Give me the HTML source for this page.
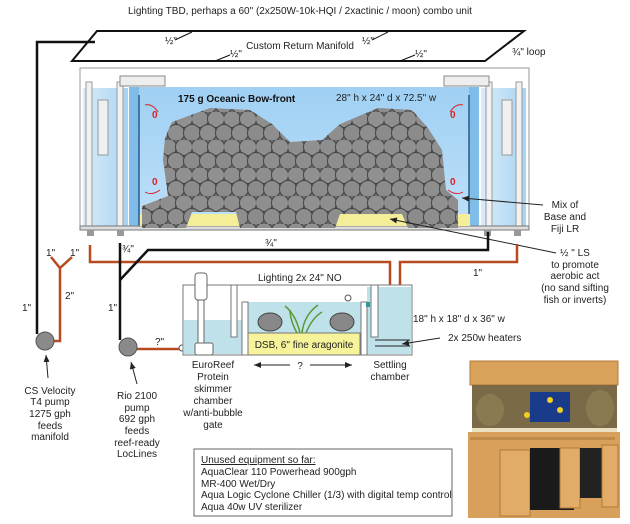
<!DOCTYPE html>
<html><head><meta charset="utf-8"><style>
html,body{margin:0;padding:0;background:#fff;}
svg{display:block;}
text{font-family:"Liberation Sans",Arial,sans-serif;font-size:10px;fill:#222;}
</style></head><body>
<svg width="630" height="524" viewBox="0 0 630 524" xmlns="http://www.w3.org/2000/svg">
<defs>
<linearGradient id="wat" x1="0" y1="0" x2="0" y2="1">
<stop offset="0" stop-color="#9fd0f4"/><stop offset="1" stop-color="#bfe0f8"/></linearGradient>
<linearGradient id="side" x1="0" y1="0" x2="1" y2="0">
<stop offset="0" stop-color="#d8ecfa"/><stop offset="1" stop-color="#a8d4f2"/></linearGradient>
<pattern id="rock" width="32" height="28" patternUnits="userSpaceOnUse">
<rect width="32" height="28" fill="#6e6e6e"/>
<circle cx="8" cy="7" r="8.5" fill="#8e8e8e" stroke="#444" stroke-width="1"/>
<circle cx="24" cy="7" r="8.5" fill="#909090" stroke="#444" stroke-width="1"/>
<circle cx="0" cy="21" r="8.5" fill="#8b8b8b" stroke="#444" stroke-width="1"/>
<circle cx="16" cy="21" r="8.5" fill="#8e8e8e" stroke="#444" stroke-width="1"/>
<circle cx="32" cy="21" r="8.5" fill="#8b8b8b" stroke="#444" stroke-width="1"/>
</pattern>
<marker id="ah" markerWidth="8" markerHeight="8" refX="7" refY="4" orient="auto"><path d="M0,1 L7,4 L0,7 z" fill="#222"/></marker>
</defs>

<text x="300" y="14" text-anchor="middle" font-size="9.5">Lighting TBD, perhaps a 60" (2x250W-10k-HQI / 2xactinic / moon) combo unit</text>

<polygon points="97,31 524,31 485,61 72,61" fill="#fff" stroke="#111" stroke-width="2"/>
<text x="300" y="49" text-anchor="middle">Custom Return Manifold</text>
<text x="165" y="44" font-size="9">½"</text><line x1="175" y1="40" x2="192" y2="32" stroke="#111"/>
<text x="362" y="44" font-size="9">½"</text><line x1="372" y1="40" x2="388" y2="32" stroke="#111"/>
<text x="230" y="57" font-size="9">½"</text><line x1="215" y1="61" x2="230" y2="55" stroke="#111"/>
<text x="415" y="57" font-size="9">½"</text><line x1="400" y1="61" x2="415" y2="55" stroke="#111"/>
<text x="512" y="55" font-size="9">¾" loop</text>

<polyline points="95,42 37,42 37,334" fill="none" stroke="#111" stroke-width="2.5"/>

<rect x="80" y="68" width="449" height="161" fill="#fff" stroke="#999" stroke-width="1"/>
<rect x="83" y="88" width="45" height="138" fill="url(#side)"/>
<rect x="481" y="88" width="45" height="138" fill="url(#side)"/>
<rect x="129" y="87" width="350" height="140" fill="url(#wat)"/>
<rect x="129" y="87" width="10" height="140" fill="#7fbde8"/>
<rect x="469" y="87" width="10" height="140" fill="#7fbde8"/>
<line x1="139" y1="95" x2="139" y2="226" stroke="#2a5a8a" stroke-width="1.5"/>
<line x1="469" y1="95" x2="469" y2="226" stroke="#2a5a8a" stroke-width="1.5"/>
<rect x="86" y="82" width="6" height="144" fill="#f2f2f2" stroke="#999"/>
<rect x="117" y="82" width="6" height="144" fill="#f2f2f2" stroke="#999"/>
<rect x="120" y="76" width="45" height="10" fill="#eee" stroke="#888"/>
<rect x="98" y="100" width="10" height="55" fill="#f0f0f0" stroke="#999"/>
<rect x="516" y="82" width="6" height="144" fill="#f2f2f2" stroke="#999"/>
<rect x="486" y="82" width="6" height="144" fill="#f2f2f2" stroke="#999"/>
<rect x="444" y="76" width="45" height="10" fill="#eee" stroke="#888"/>
<rect x="502" y="100" width="10" height="55" fill="#f0f0f0" stroke="#999"/>
<rect x="80" y="226" width="449" height="4" fill="#ddd" stroke="#777"/>
<rect x="87" y="230" width="7" height="6" fill="#999"/><rect x="117" y="230" width="7" height="6" fill="#999"/>
<rect x="484" y="230" width="7" height="6" fill="#999"/><rect x="514" y="230" width="7" height="6" fill="#999"/>
<rect x="140" y="214" width="330" height="12" fill="#f4ee98"/>
<polygon points="165,138 172,122 210,108 250,110 272,124 290,142 322,140 340,124 378,108 412,110 428,128 442,150 446,190 458,200 458,228 408,228 402,214 340,214 335,228 240,228 236,212 192,212 186,228 142,228 142,206 168,196 163,160" fill="url(#rock)"/>
<text x="152" y="118" font-size="10" style="fill:#d22" font-weight="bold">0</text>
<text x="152" y="185" font-size="10" style="fill:#d22" font-weight="bold">0</text>
<text x="450" y="118" font-size="10" style="fill:#d22" font-weight="bold">0</text>
<text x="450" y="185" font-size="10" style="fill:#d22" font-weight="bold">0</text>
<g stroke="#d22" fill="none" stroke-width="1"><path d="M145,105 Q152,103 158,112"/><path d="M145,192 Q152,196 160,190"/><path d="M463,105 Q456,103 450,112"/><path d="M463,192 Q456,196 448,190"/></g>

<text x="178" y="102" font-weight="bold" font-size="10.5" style="fill:#111">175 g Oceanic Bow-front</text>
<text x="336" y="101" font-size="10">28" h x 24" d x 72.5" w</text>

<line x1="543" y1="205" x2="462" y2="198" stroke="#222" marker-end="url(#ah)"/>
<text x="565" y="208" text-anchor="middle">Mix of</text>
<text x="565" y="220" text-anchor="middle">Base and</text>
<text x="565" y="232" text-anchor="middle">Fiji LR</text>
<line x1="556" y1="253" x2="390" y2="219" stroke="#222" marker-end="url(#ah)"/>
<text x="575" y="256" text-anchor="middle">½ " LS</text>
<text x="575" y="268" text-anchor="middle">to promote</text>
<text x="575" y="279" text-anchor="middle">aerobic act</text>
<text x="575" y="291" text-anchor="middle">(no sand sifting</text>
<text x="575" y="303" text-anchor="middle">fish or inverts)</text>

<g fill="none" stroke="#b84a20" stroke-width="2.5">
<polyline points="90,245 90,262 390,262 390,331"/>
<polyline points="517,244 517,262 400,262 400,331"/>
<polyline points="51,257 60,268 72,257"/>
<polyline points="60,268 60,341 48,341"/>
<polyline points="137,349 180,349"/>
</g>
<g stroke="#fff" stroke-width="1.5" stroke-dasharray="3,4">
<line x1="390" y1="300" x2="390" y2="331"/><line x1="400" y1="300" x2="400" y2="331"/>
</g>
<polyline points="488,232 488,250 148,250 120,280" fill="none" stroke="#111" stroke-width="2.5"/>
<line x1="120" y1="243" x2="120" y2="340" stroke="#111" stroke-width="2.5"/>

<text x="265" y="246" font-size="9">¾"</text>
<text x="122" y="252" font-size="9">¾"</text>
<text x="473" y="276" font-size="9">1"</text>
<text x="46" y="256" font-size="9">1"</text>
<text x="70" y="256" font-size="9">1"</text>
<text x="65" y="299" font-size="9">2"</text>
<text x="22" y="311" font-size="9">1"</text>
<text x="108" y="311" font-size="9">1"</text>
<text x="155" y="345" font-size="9">?"</text>

<circle cx="45" cy="341" r="9" fill="#8a8a8a" stroke="#555"/>
<circle cx="128" cy="347" r="9" fill="#8a8a8a" stroke="#555"/>
<circle cx="182" cy="348" r="3" fill="#fff" stroke="#555"/>
<line x1="48" y1="378" x2="46" y2="355" stroke="#222" marker-end="url(#ah)"/>
<line x1="137" y1="384" x2="131" y2="362" stroke="#222" marker-end="url(#ah)"/>

<text x="258" y="281">Lighting 2x 24" NO</text>
<rect x="183" y="285" width="229" height="70" fill="#fff" stroke="#777"/>
<rect x="184" y="320" width="58" height="34" fill="#bfe2ea"/>
<rect x="248" y="302" width="113" height="52" fill="#bfe2ea"/>
<rect x="367" y="287" width="44" height="67" fill="#bfe2ea"/>
<rect x="248" y="333" width="112" height="22" fill="#f7f39a" stroke="#777"/>
<text x="304" y="348" text-anchor="middle" font-size="9">DSB, 6" fine aragonite</text>
<rect x="231" y="285" width="6" height="52" fill="#fff" stroke="#777"/>
<rect x="242" y="302" width="6" height="53" fill="#fff" stroke="#777"/>
<rect x="361" y="302" width="6" height="53" fill="#fff" stroke="#777"/>
<rect x="371" y="285" width="7" height="52" fill="#fff" stroke="#777"/>
<ellipse cx="270" cy="322" rx="12" ry="9" fill="#888" stroke="#444"/>
<ellipse cx="342" cy="322" rx="12" ry="9" fill="#888" stroke="#444"/>
<g stroke="#5a9a3a" stroke-width="1.5" fill="none"><path d="M300,333 Q296,315 285,306"/><path d="M302,333 Q304,315 318,305"/><path d="M306,333 Q312,318 322,312"/><path d="M297,333 Q290,320 290,310"/></g>
<circle cx="348" cy="298" r="3" fill="#fff" stroke="#555"/>
<rect x="366" y="302" width="4" height="5" fill="#2a9a9a"/>
<g stroke="#666" fill="#fff">
<rect x="195" y="273" width="12" height="27" rx="3"/>
<rect x="198" y="300" width="6" height="44"/>
<rect x="195" y="343" width="18" height="12" rx="2"/>
</g>
<line x1="375" y1="340" x2="410" y2="340" stroke="#222"/><line x1="375" y1="346" x2="410" y2="346" stroke="#222"/>
<line x1="440" y1="338" x2="402" y2="344" stroke="#222" marker-end="url(#ah)"/>
<text x="413" y="322">18" h x 18" d x 36" w</text>
<text x="448" y="341">2x 250w heaters</text>

<line x1="290" y1="365" x2="254" y2="365" stroke="#222" marker-end="url(#ah)"/>
<line x1="310" y1="365" x2="352" y2="365" stroke="#222" marker-end="url(#ah)"/>
<text x="300" y="369" text-anchor="middle" font-size="9">?</text>

<g text-anchor="middle">
<text x="213" y="368">EuroReef</text><text x="213" y="380">Protein</text><text x="213" y="392">skimmer</text>
<text x="213" y="404">chamber</text><text x="213" y="416">w/anti-bubble</text><text x="213" y="428">gate</text>
<text x="390" y="368">Settling</text><text x="390" y="380">chamber</text>
<text x="50" y="394">CS Velocity</text><text x="50" y="405">T4 pump</text><text x="50" y="417">1275 gph</text>
<text x="50" y="429">feeds</text><text x="50" y="440">manifold</text>
<text x="137" y="399">Rio 2100</text><text x="137" y="411">pump</text><text x="137" y="422">692 gph</text>
<text x="137" y="434">feeds</text><text x="137" y="446">reef-ready</text><text x="137" y="457">LocLines</text>
</g>

<rect x="194" y="449" width="258" height="67" fill="#fff" stroke="#666"/>
<text x="201" y="463" text-decoration="underline">Unused equipment so far:</text>
<text x="201" y="475">AquaClear 110 Powerhead 900gph</text>
<text x="201" y="487">MR-400 Wet/Dry</text>
<text x="201" y="498">Aqua Logic Cyclone Chiller (1/3) with digital temp control</text>
<text x="201" y="510">Aqua 40w UV sterilizer</text>

<rect x="470" y="361" width="148" height="24" fill="#d9a25a" stroke="#b07a3a"/>
<rect x="472" y="385" width="145" height="47" fill="#7a6a48"/>
<ellipse cx="490" cy="410" rx="14" ry="16" fill="#8a7a50"/>
<ellipse cx="600" cy="408" rx="14" ry="18" fill="#8a7a50"/>
<rect x="530" y="392" width="40" height="30" fill="#1a3a8a"/>
<circle cx="550" cy="400" r="3" fill="#f0d020"/><circle cx="560" cy="410" r="3" fill="#f0d020"/><circle cx="527" cy="415" r="3" fill="#f0d020"/>
<rect x="472" y="428" width="145" height="4" fill="#e8e0c0"/>
<rect x="468" y="432" width="152" height="86" fill="#d8a05a"/>
<rect x="470" y="437" width="145" height="3" fill="#c08a48"/>
<rect x="500" y="450" width="30" height="66" fill="#e0ac68" stroke="#b07a3a"/>
<rect x="530" y="448" width="44" height="62" fill="#1a1a1a"/>
<rect x="560" y="448" width="20" height="60" fill="#e0ac68" stroke="#b07a3a"/>
<rect x="580" y="448" width="22" height="50" fill="#222"/>
<rect x="602" y="445" width="16" height="62" fill="#e0ac68" stroke="#b07a3a"/>
</svg>
</body></html>
